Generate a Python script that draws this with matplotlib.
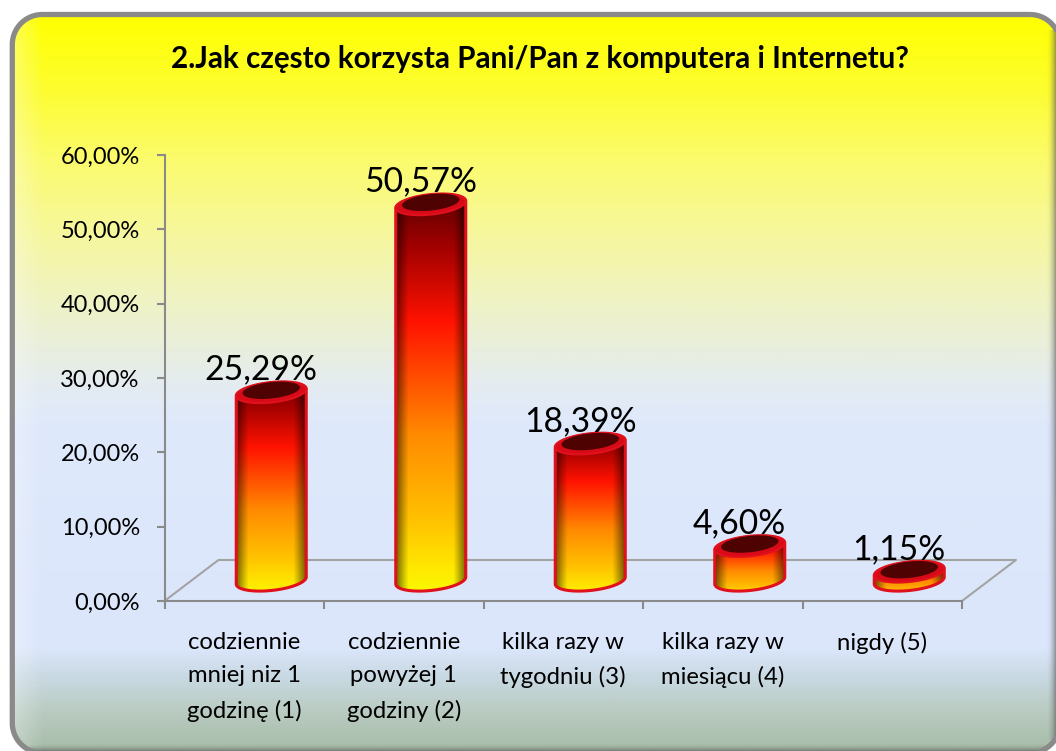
import numpy as np
import matplotlib
import matplotlib.pyplot as plt
from matplotlib.colors import LinearSegmentedColormap
from matplotlib.patches import Polygon

matplotlib.use('agg')

title = '2.Jak często korzysta Pani/Pan z komputera i Internetu?'
categories = ['codziennie\nmniej niz 1\ngodzinę (1)', 'codziennie\npowyżej 1\ngodziny (2)',
              'kilka razy w\ntygodniu (3)', 'kilka razy w\nmiesiącu (4)', 'nigdy (5)']
values = [25.29, 50.57, 18.39, 4.60, 1.15]
value_labels = ['25,29%', '50,57%', '18,39%', '4,60%', '1,15%']
y_ticks = [0, 10, 20, 30, 40, 50, 60]
y_tick_labels = ['0,00%', '10,00%', '20,00%', '30,00%', '40,00%', '50,00%', '60,00%']

W, H = 1056, 751
FONT = 'Lato'
GRAY = '#8a8a8a'
plt.rcParams['font.family'] = [FONT, 'DejaVu Sans']

fig = plt.figure(figsize=(W / 100, H / 100), dpi=100, facecolor='white')


def rounded_rect(x0, y0, x1, y1, r):
    # plain polygon, curved patches get mangled when they run off the canvas
    corners = [(x1 - r, y0 + r, -90), (x1 - r, y1 - r, 0), (x0 + r, y1 - r, 90), (x0 + r, y0 + r, 180)]
    points = []
    for cx, cy, start in corners:
        a = np.radians(np.linspace(start, start + 90, 24))
        points.append(np.column_stack([cx + r * np.cos(a), cy + r * np.sin(a)]))
    return np.vstack(points)


# background panel, pixel coords
bg = fig.add_axes([0, 0, 1, 1])
bg.set_xlim(0, W)
bg.set_ylim(H, 0)
bg.axis('off')
bg_cmap = LinearSegmentedColormap.from_list('bg', [
    (0.00, '#ffff00'), (0.10, '#fdfd30'), (0.20, '#fbfb70'), (0.30, '#f6f79f'),
    (0.40, '#eef2c9'), (0.50, '#e4ecf0'), (0.55, '#dfe9fb'), (0.86, '#dbe6fb'),
    (0.90, '#c9d9e2'), (0.95, '#b8cabf'), (1.00, '#a6bca8')])
box = Polygon(rounded_rect(12.3, 14.5, 1060, 753, 30), closed=True,
              facecolor='none', edgecolor=GRAY, linewidth=3.8, zorder=3)
bg.add_patch(box)
img = bg.imshow(np.linspace(0, 1, 400)[:, None], cmap=bg_cmap, extent=(12, 1062, 753, 14), aspect='auto', zorder=1)
img.set_clip_path(box)
# light bevel along the left edge, dark fade along right and bottom
bevel = np.ones((1, 40, 4))
bevel[0, :, 3] = np.linspace(0.3, 0, 40)
bevel_img = bg.imshow(bevel, extent=(14, 44, 753, 14), aspect='auto', zorder=2)
bevel_img.set_clip_path(box)
right_fade = np.full((1, 20, 4), 0.35)
right_fade[0, :, 3] = np.linspace(0, 0.55, 20) ** 2 * 2
right_img = bg.imshow(right_fade, extent=(1046, 1056, 740, 30), aspect='auto', zorder=2)
right_img.set_clip_path(box)
bottom_fade = np.full((20, 1, 4), 0.35)
bottom_fade[:, 0, 3] = np.linspace(0, 0.55, 20) ** 2 * 2
bottom_img = bg.imshow(bottom_fade, extent=(30, 1056, 751, 743), aspect='auto', zorder=2)
bottom_img.set_clip_path(box)
bg.set_xlim(0, W)
bg.set_ylim(H, 0)

fig.text(540 / W, 1 - 59 / H, title, ha='center', va='center', fontsize=21.3, fontweight='bold', color='black')

# chart axes: front plane of the 3d box
ax = fig.add_axes([164.5 / W, 1 - 601 / H, (962 - 164.5) / W, (601 - 155) / H])
ax.patch.set_alpha(0)
ax.set_xlim(0, 5)
ax.set_ylim(0, 60)
for name in ['top', 'right']:
    ax.spines[name].set_visible(False)
for name in ['left', 'bottom']:
    ax.spines[name].set_color(GRAY)
    ax.spines[name].set_linewidth(1.5)
ax.set_yticks(y_ticks, y_tick_labels, fontsize=17)
ax.set_xticks(np.arange(6))
ax.set_xticklabels([])
ax.set_xticks(np.arange(5) + 0.5, categories, minor=True, fontsize=17.2, linespacing=1.75, va='top')
ax.tick_params(axis='y', color=GRAY, width=1.5, length=5.8, pad=12)
ax.tick_params(axis='x', which='major', color=GRAY, width=1.5, length=5.8)
ax.tick_params(axis='x', which='minor', length=0, pad=22)

# floor of the box
depth_x, depth_y = 54 / 159.5, 41 / 7.43
ax.plot([0, depth_x, 5 + depth_x, 5], [0, depth_y, depth_y, 0], color='#a3a3a3', lw=1.5, clip_on=False, zorder=1)

bar_cmap = LinearSegmentedColormap.from_list('bar', [
    (0.00, '#f8ff00'), (0.08, '#ffe800'), (0.20, '#ffc000'), (0.40, '#ff8a00'), (0.67, '#ff1200'),
    (0.86, '#9c0000'), (1.00, '#4a0000')])
half_w = 35 / 159.5
cap_b, cap_k = 10 / 7.43, 3.5 / 7.43
t = np.linspace(0, 2 * np.pi, 121)
ring_edge = '#e0101c'


def ellipse(cx, cy, scale=1.0):
    return np.column_stack([cx + half_w * scale * np.cos(t),
                            cy + cap_b * scale * np.sin(t) + cap_k * scale * np.cos(t)])


for i, (value, label) in enumerate(zip(values, value_labels)):
    cx = i + 0.5 + depth_x / 2
    base = depth_y / 2
    top = base + value
    lower = ellipse(cx, base)
    upper = ellipse(cx, top)
    half = len(t) // 2
    # t from 0..pi is the upper half of the cap, pi..2pi the lower half of the base
    body = np.vstack([upper[:half + 1], lower[half:]])

    shade = np.clip(0.45 + 0.55 * np.sin(np.linspace(0, np.pi, 120)) * 1.9, 0, 1)
    rows = bar_cmap(np.linspace(1, 0, 200))[:, :3]
    rgb = rows[:, None, :] * shade[None, :, None]
    im = ax.imshow(rgb, extent=(cx - half_w, cx + half_w, base - 3, top + 3), aspect='auto',
                   zorder=2, interpolation='bilinear')
    patch = Polygon(body, closed=True, facecolor='none', edgecolor=ring_edge, linewidth=2.2, zorder=3, clip_on=False)
    ax.add_patch(patch)
    im.set_clip_path(patch)
    ax.add_patch(Polygon(upper, closed=True, facecolor='#d80a18', edgecolor=ring_edge, linewidth=1.5, zorder=4, clip_on=False))
    ax.add_patch(Polygon(ellipse(cx, top + 0.3, 0.82), closed=True, facecolor='#4e0202', edgecolor='none', zorder=5, clip_on=False))
    ax.annotate(label, (i + 0.5, top), xytext=(17, 23), textcoords='offset pixels', ha='center', va='center',
                fontsize=24.2, color='black', zorder=6, annotation_clip=False)

ax.set_xlim(0, 5)
ax.set_ylim(0, 60)

fig.savefig('out.png', dpi=100)
